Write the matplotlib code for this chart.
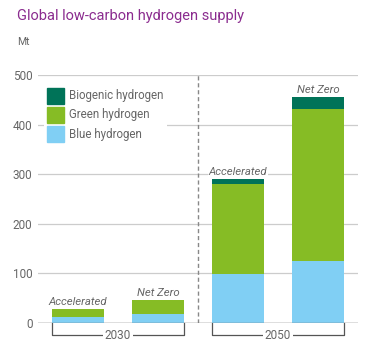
import matplotlib

matplotlib.use("Agg")
import matplotlib.pyplot as plt
import numpy as np
from matplotlib.patches import Patch

scenarios = ["Accelerated", "Net Zero", "Accelerated", "Net Zero"]
years = ["2030", "2050"]
blue = [12, 18, 99, 126]
green = [16, 28, 181, 305]
biogenic = [0, 0, 10, 24]

C_BLUE = "#80cff4"
C_GREEN = "#86bc25"
C_BIO = "#007358"
GREY = "#666666"

plt.rcParams["font.family"] = ["Roboto", "DejaVu Sans"]

fig = plt.figure(figsize=(3.73, 3.54), dpi=100)
ax = fig.add_axes([38 / 373, 31 / 354, 320 / 373, 248 / 354])

x = np.arange(len(scenarios))
w = 0.66
blue = np.array(blue)
green = np.array(green)
biogenic = np.array(biogenic)
ax.bar(x, blue, w, color=C_BLUE, zorder=3)
ax.bar(x, green, w, bottom=blue, color=C_GREEN, zorder=3)
ax.bar(x, biogenic, w, bottom=blue + green, color=C_BIO, zorder=3)

totals = blue + green + biogenic
for xi, t, name in zip(x, totals, scenarios):
    ax.text(xi, t + 4, name, ha="center", va="bottom", fontsize=8.2, style="italic",
            color=GREY, zorder=4,
            bbox=dict(boxstyle="square,pad=0.1", fc="white", ec="none"))

ax.set_xlim(-0.5, 3.5)
ax.set_ylim(0, 500)
ax.set_yticks([0, 100, 200, 300, 400, 500])
ax.grid(True, axis="y", color="#cccccc", linewidth=0.9, zorder=0)
for s in ax.spines.values():
    s.set_visible(False)
ax.axhline(0, color="#777777", linewidth=1.0, zorder=4)
ax.tick_params(axis="y", length=0, labelsize=8.5, labelcolor=GREY, pad=4)
ax.set_xticks([])
ax.axvline(1.5, ymin=0, ymax=1, color="#888888", linestyle=(0, (3, 2)), linewidth=1.0, zorder=2)

# year brackets
for i, yr in enumerate(years):
    x0 = 2 * i - w / 2
    x1 = 2 * i + 1 + w / 2
    ax.plot([x0, x0, x1, x1], [0, -25, -25, 0], color="#555555", linewidth=0.9, clip_on=False)
    ax.text((x0 + x1) / 2, -25, yr, ha="center", va="center", fontsize=8.5, color=GREY,
            bbox=dict(boxstyle="square,pad=0.15", fc="white", ec="none"))

handles = [Patch(color=C_BIO), Patch(color=C_GREEN), Patch(color=C_BLUE)]
labels = ["Biogenic hydrogen", "Green hydrogen", "Blue hydrogen"]
leg = ax.legend(handles, labels, loc="upper left", bbox_to_anchor=(0.0, 0.985),
                fontsize=8.3, frameon=True, facecolor="white", edgecolor="none", framealpha=1,
                handlelength=1.45, handleheight=1.7, handletextpad=0.45, labelspacing=0.3,
                borderpad=0.3, fancybox=False)
for t in leg.get_texts():
    t.set_color(GREY)
leg.set_zorder(5)

fig.text(17 / 373, 1 - 16 / 354, "Global low-carbon hydrogen supply", fontsize=10.5,
         color="#8b2c8f", va="center", ha="left")
fig.text(17 / 373, 1 - 42 / 354, "Mt", fontsize=7.5, color=GREY, va="center", ha="left")

fig.savefig("out.png", dpi=100)
